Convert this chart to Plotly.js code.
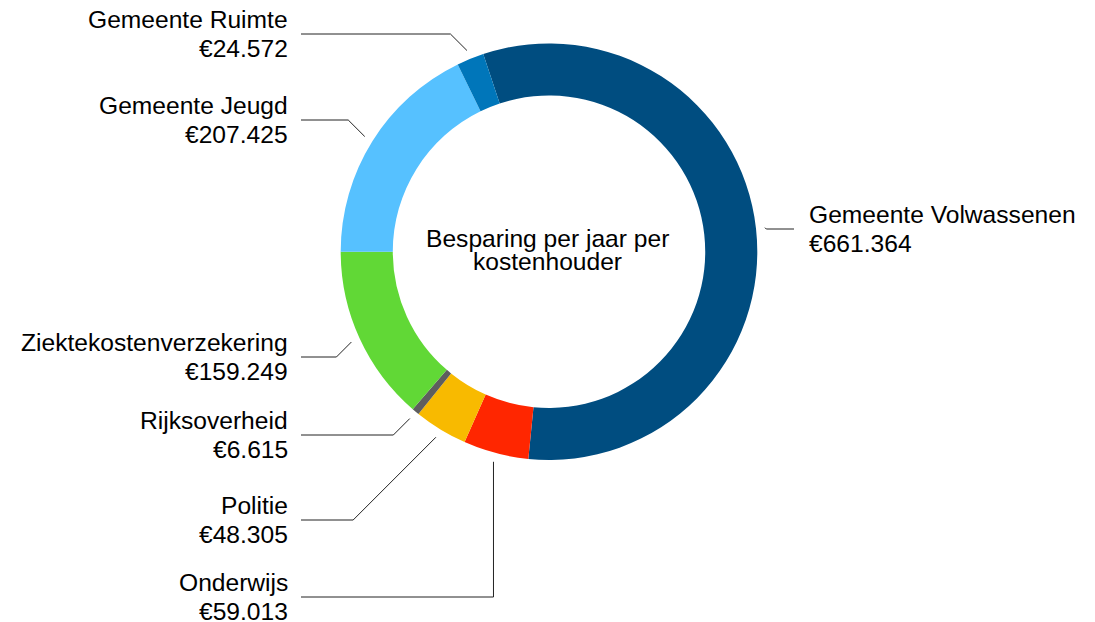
<!DOCTYPE html>
<html>
<head>
<meta charset="utf-8">
<script src="https://cdn.plot.ly/plotly-3.0.1.min.js"></script>
<style>
  body { margin: 0; background: #fff; }
  #chart { width: 1095px; height: 622px; }
</style>
</head>
<body>
<div id="chart"></div>
<script>
// Besparing per kostenhouder
const labels = ['Gemeente Volwassenen', 'Onderwijs', 'Politie', 'Rijksoverheid',
                'Ziektekostenverzekering', 'Gemeente Jeugd', 'Gemeente Ruimte'];
const values = [661364, 59013, 48305, 6615, 159249, 207425, 24572];
const colors = ['#004D80', '#FF2600', '#F8BA00', '#5E5E5E', '#61D836', '#56C1FF', '#0076BA'];
const centerLines = ['Besparing per jaar per', 'kostenhouder'];

// layout of the callouts (pixels)
const labelLineY = [229, 597, 520, 435, 357, 120, 34];
const bendVertical = [false, true, false, false, false, false, false];

const W = 1095, H = 622;
const cx = 549, cy = 251.7, R = 208.3;
const rotation = -18.4;
const FONT = 'Helvetica, Arial, "Liberation Sans", sans-serif';
const FSIZE = 24.6;

function px(x) { return x / W; }
function py(y) { return 1 - y / H; }
function euro(v) { return '€' + String(v).replace(/\B(?=(\d{3})+(?!\d))/g, '.'); }

const trace = {
    type: 'pie',
    labels: labels,
    values: values,
    marker: {colors: colors, line: {width: 0}},
    hole: 0.75,
    sort: false,
    direction: 'clockwise',
    rotation: rotation,
    textinfo: 'none',
    hoverinfo: 'label+value',
    showlegend: false,
    domain: {x: [px(cx - R), px(cx + R)], y: [py(cy + R), py(cy - R)]}
};

const shapes = [];
const annotations = [];
const total = values.reduce((a, b) => a + b, 0);
let angle = rotation;
for (let i = 0; i < values.length; i++) {
    const span = values[i] / total * 360;
    const mid = (angle + span / 2) * Math.PI / 180;
    angle += span;
    const sx = cx + (R + 9) * Math.sin(mid);
    const sy = cy - (R + 9) * Math.cos(mid);
    const side = Math.sin(mid) > 0 ? 1 : -1;
    const ly = labelLineY[i];
    const ex = bendVertical[i] ? sx : sx + side * Math.abs(ly - sy);
    const endX = side > 0 ? 794 : 301;
    shapes.push({
        type: 'path', xref: 'paper', yref: 'paper',
        path: 'M ' + px(sx) + ',' + py(sy) + ' L ' + px(ex) + ',' + py(ly) +
              ' L ' + px(endX) + ',' + py(ly),
        line: {color: '#222222', width: 1}
    });
    const tx = side > 0 ? 809 : 288;
    const anchor = side > 0 ? 'left' : 'right';
    [labels[i], euro(values[i])].forEach(function(t, k) {
        annotations.push({
            xref: 'paper', yref: 'paper', x: px(tx), y: py(ly + (k === 0 ? -14.5 : 14)),
            xanchor: anchor, yanchor: 'middle', text: t, showarrow: false,
            borderpad: 0, borderwidth: 0,
            font: {family: FONT, size: FSIZE, color: '#000'}
        });
    });
}

centerLines.forEach(function(t, k) {
    annotations.push({
        xref: 'paper', yref: 'paper', x: px(547), y: py(238.7 + k * 23),
        xanchor: 'center', yanchor: 'middle', text: t, showarrow: false,
        borderpad: 0, borderwidth: 0,
        font: {family: FONT, size: FSIZE, color: '#000'}
    });
});

const layout = {
    width: W,
    height: H,
    margin: {l: 0, r: 0, t: 0, b: 0},
    paper_bgcolor: '#fff',
    plot_bgcolor: '#fff',
    shapes: shapes,
    annotations: annotations
};

Plotly.newPlot('chart', [trace], layout, {displayModeBar: false, staticPlot: true});
</script>
</body>
</html>
